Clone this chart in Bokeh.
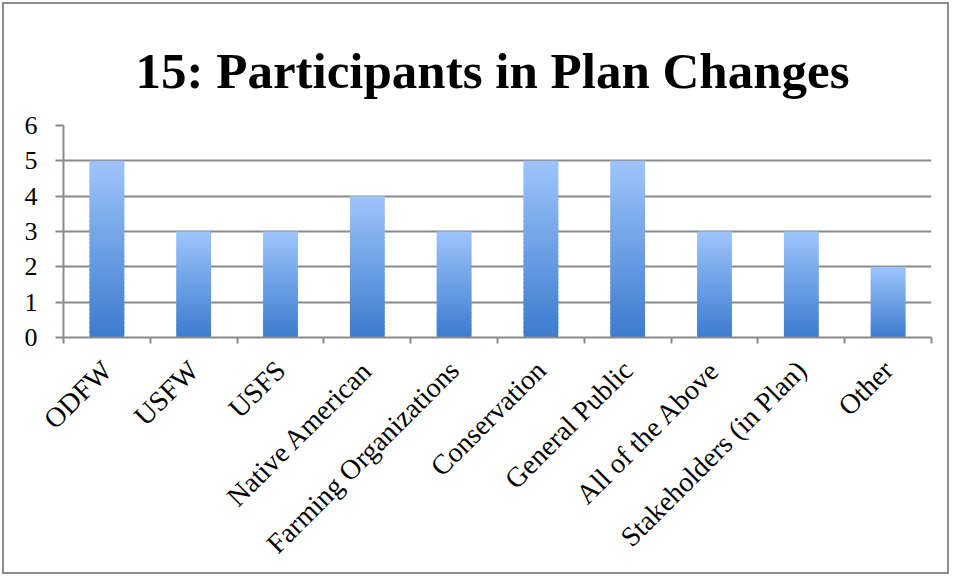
import numpy as np
from bokeh.plotting import figure
from bokeh.models import ColumnDataSource, FixedTicker, Range1d, Title
from bokeh.embed import file_html
from bokeh.resources import INLINE

categories = ["ODFW", "USFW", "USFS", "Native American", "Farming Organizations",
              "Conservation", "General Public", "All of the Above",
              "Stakeholders (in Plan)", "Other"]
values = [5, 3, 3, 4, 3, 5, 5, 3, 3, 2]
y_ticks = [0, 1, 2, 3, 4, 5, 6]

top_rgb = np.array([0x9E, 0xC5, 0xFB])
bot_rgb = np.array([0x3C, 0x7B, 0xCE])

N = 40
xs, bottoms, tops, colors = [], [], [], []
for i, v in enumerate(values):
    for k in range(N):
        f = (k + 0.5) / N
        c = bot_rgb + (top_rgb - bot_rgb) * f
        xs.append(i + 0.5)
        bottoms.append(v * k / N)
        extra = 0 if k == N - 1 else v * 0.6 / N
        tops.append(v * (k + 1) / N + extra)
        colors.append("#%02x%02x%02x" % tuple(int(round(t)) for t in c))
src = ColumnDataSource(dict(x=xs, bottom=bottoms, top=tops, color=colors))

p = figure(width=947, height=572, output_backend="svg", toolbar_location=None,
           x_range=Range1d(0, len(categories)), y_range=Range1d(0, 6),
           min_border_left=59, min_border_right=20, min_border_top=121,
           min_border_bottom=239)
p.styles = {"border": "2px solid #8d8d8d", "margin": "2px"}
p.outline_line_color = None
p.background_fill_color = "white"
p.border_fill_color = "white"

t = Title(text="15: Participants in Plan Changes", align="left",
          text_font="Liberation Serif", text_font_style="bold",
          text_font_size="51px", text_color="black", standoff=54, offset=72)
p.add_layout(t, "above")

p.vbar(x="x", bottom="bottom", top="top", width=0.4, color="color",
       line_color=None, source=src)

grey = "#8a8a8a"
p.ygrid.grid_line_color = grey
p.ygrid.grid_line_width = 2
p.ygrid.ticker = FixedTicker(ticks=y_ticks)
p.xgrid.grid_line_color = None

ya = p.yaxis[0]
ya.ticker = FixedTicker(ticks=y_ticks, minor_ticks=[])
ya.axis_line_color = grey
ya.axis_line_width = 2
ya.major_tick_line_color = grey
ya.major_tick_line_width = 2
ya.major_tick_out = 8
ya.major_tick_in = 0
ya.minor_tick_line_color = None
ya.major_label_text_font = "Liberation Serif"
ya.major_label_text_font_size = "26px"
ya.major_label_text_color = "black"
ya.major_label_standoff = 18

xa = p.xaxis[0]
centers = [i + 0.5 for i in range(len(categories))]
xa.ticker = FixedTicker(ticks=centers, minor_ticks=list(range(len(categories) + 1)))
xa.major_label_overrides = {c: lab for c, lab in zip(centers, categories)}
xa.axis_line_color = grey
xa.axis_line_width = 2
xa.major_tick_line_color = None
xa.minor_tick_line_color = grey
xa.minor_tick_line_width = 2
xa.minor_tick_out = 6
xa.minor_tick_in = 0
xa.major_label_orientation = np.pi / 4
xa.major_label_text_font = "Liberation Serif"
xa.major_label_text_font_size = "28px"
xa.major_label_text_color = "black"
xa.major_label_standoff = 22

open("out.html", "w").write(file_html(p, INLINE))
